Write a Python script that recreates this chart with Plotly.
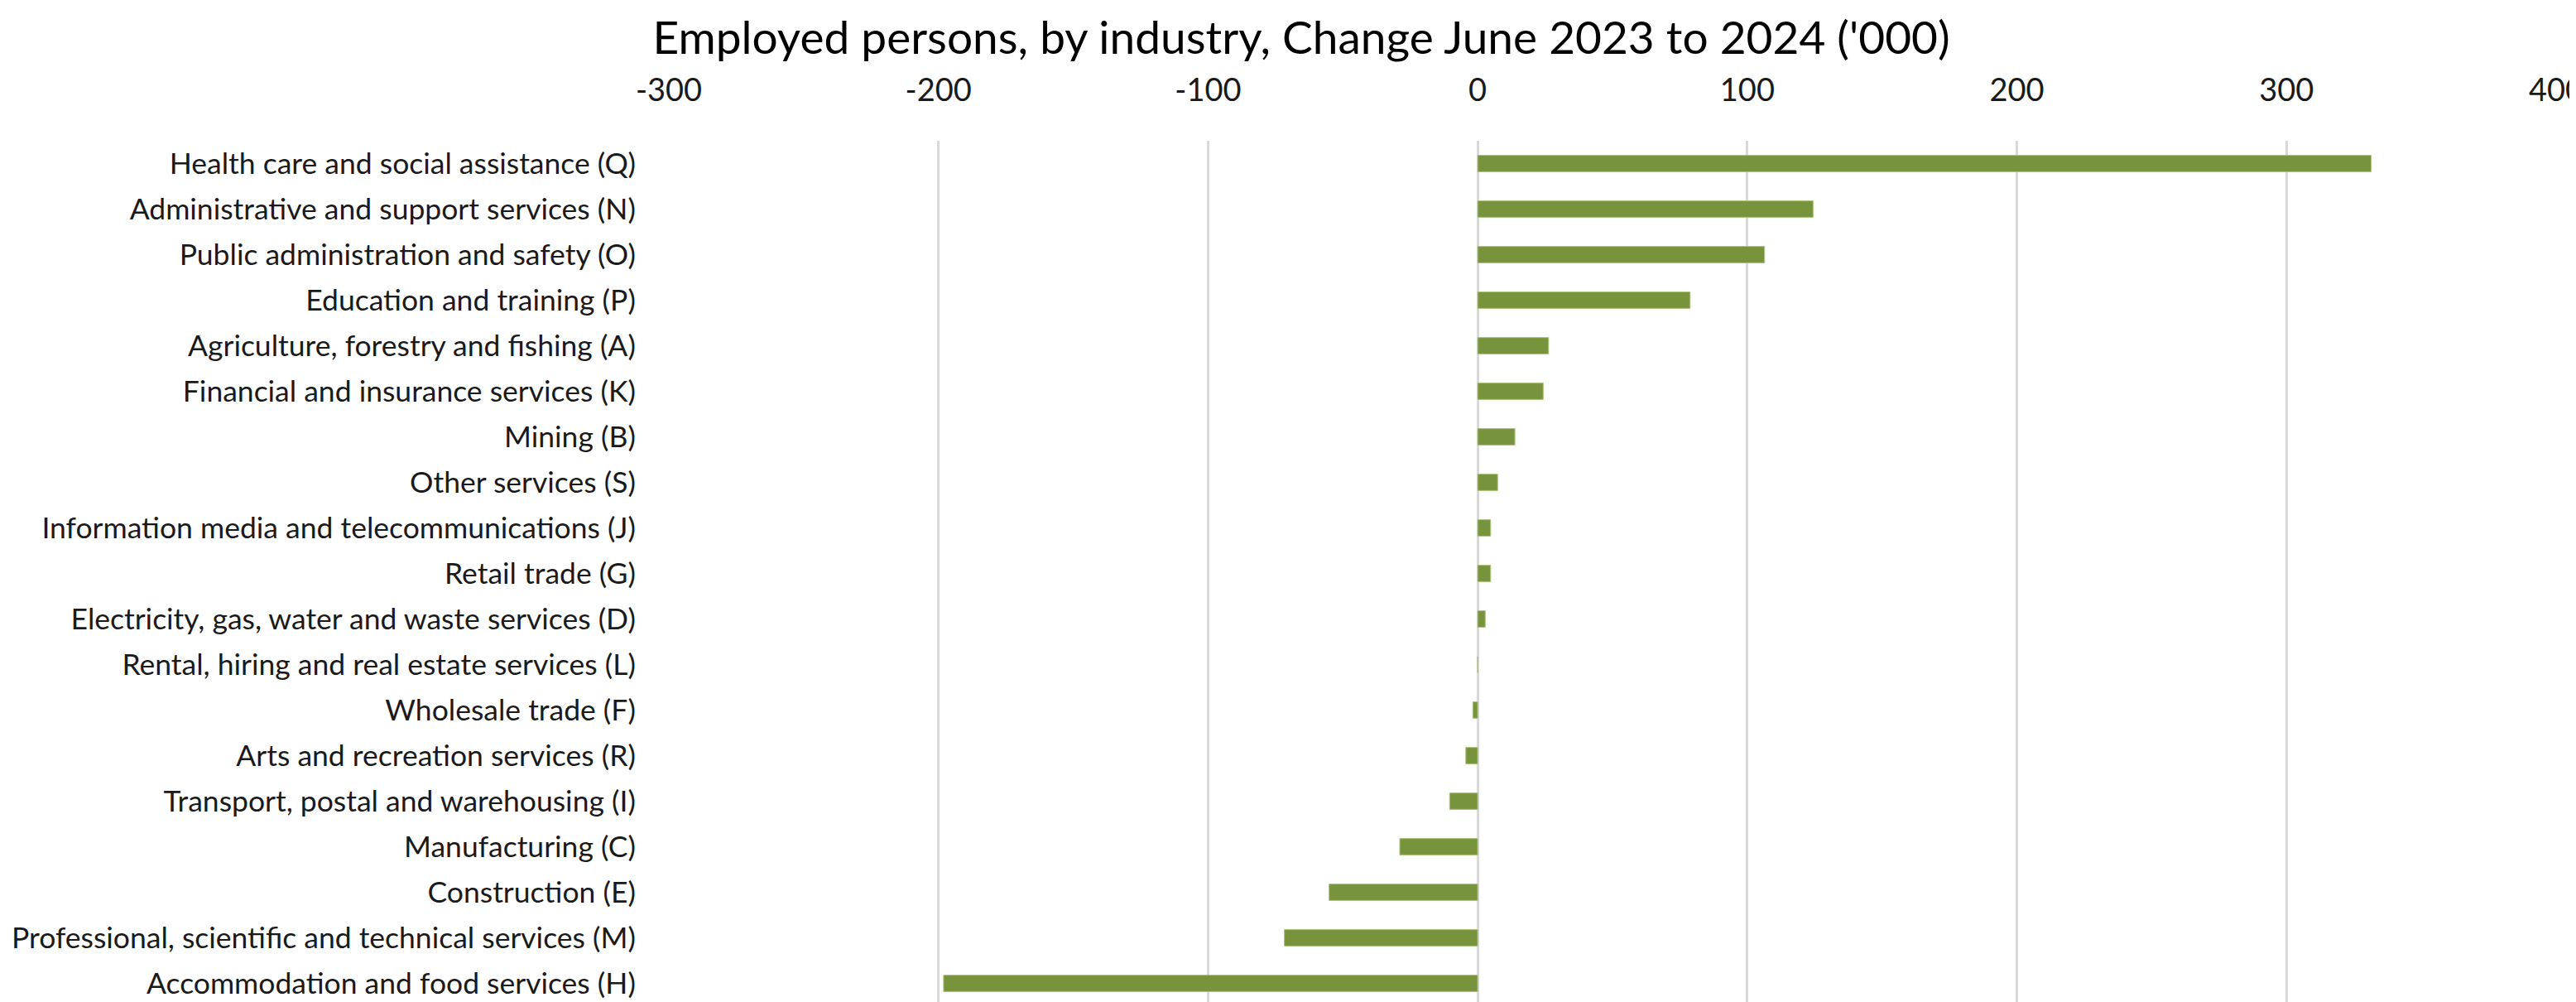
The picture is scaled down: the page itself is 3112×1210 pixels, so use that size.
import plotly.graph_objects as go

industries = [
    "Health care and social assistance (Q)",
    "Administrative and support services (N)",
    "Public administration and safety (O)",
    "Education and training (P)",
    "Agriculture, forestry and fishing (A)",
    "Financial and insurance services (K)",
    "Mining (B)",
    "Other services (S)",
    "Information media and telecommunications (J)",
    "Retail trade (G)",
    "Electricity, gas, water and waste services (D)",
    "Rental, hiring and real estate services (L)",
    "Wholesale trade (F)",
    "Arts and recreation services (R)",
    "Transport, postal and warehousing (I)",
    "Manufacturing (C)",
    "Construction (E)",
    "Professional, scientific and technical services (M)",
    "Accommodation and food services (H)",
]
change = [331.4, 124.4, 106.4, 78.8, 26.3, 24.3, 13.8, 7.4, 4.8, 4.8, 2.8, 0.0,
          -1.8, -4.4, -10.4, -28.9, -55.1, -71.7, -198.1]

x_ticks = [-300, -200, -100, 0, 100, 200, 300, 400]
title_text = "Employed persons, by industry, Change June 2023 to 2024 ('000)"

W, H = 3112, 1210
FONT = "Lato"
GRID = "#D9D9D9"

fig = go.Figure(
    go.Bar(
        x=change,
        y=industries,
        orientation="h",
        marker=dict(color="#77933C", line=dict(color="#A9C57A", width=1)),
    )
)

fig.update_layout(
    width=W,
    height=H,
    paper_bgcolor="white",
    plot_bgcolor="white",
    showlegend=False,
    bargap=0.64,
    margin=dict(l=800, r=32, t=162, b=3, autoexpand=False),
    title=dict(
        text=title_text,
        font=dict(family=FONT, size=55, color="#000000"),
        x=0.5026,
        xref="container",
        xanchor="center",
        y=1 - 38 / H,
        yref="container",
        yanchor="middle",
    ),
    font=dict(family=FONT, color="#1a1a1a"),
)

fig.update_xaxes(
    side="top",
    range=[-300, 400],
    tickvals=x_ticks,
    ticktext=[str(v) for v in x_ticks],
    ticklabeloverflow="allow",
    showgrid=True,
    gridcolor=GRID,
    gridwidth=3,
    zeroline=True,
    zerolinecolor=GRID,
    zerolinewidth=3,
    showline=False,
    ticks="outside",
    ticklen=32,
    tickcolor="rgba(0,0,0,0)",
    tickfont=dict(family=FONT, size=38, color="#1a1a1a"),
)

fig.update_yaxes(
    categoryorder="array",
    categoryarray=industries,
    autorange="reversed",
    showgrid=False,
    showline=False,
    ticks="outside",
    ticklen=32,
    tickcolor="rgba(0,0,0,0)",
    tickfont=dict(family=FONT, size=35.5, color="#1a1a1a"),
)

fig.write_html("out.html")
